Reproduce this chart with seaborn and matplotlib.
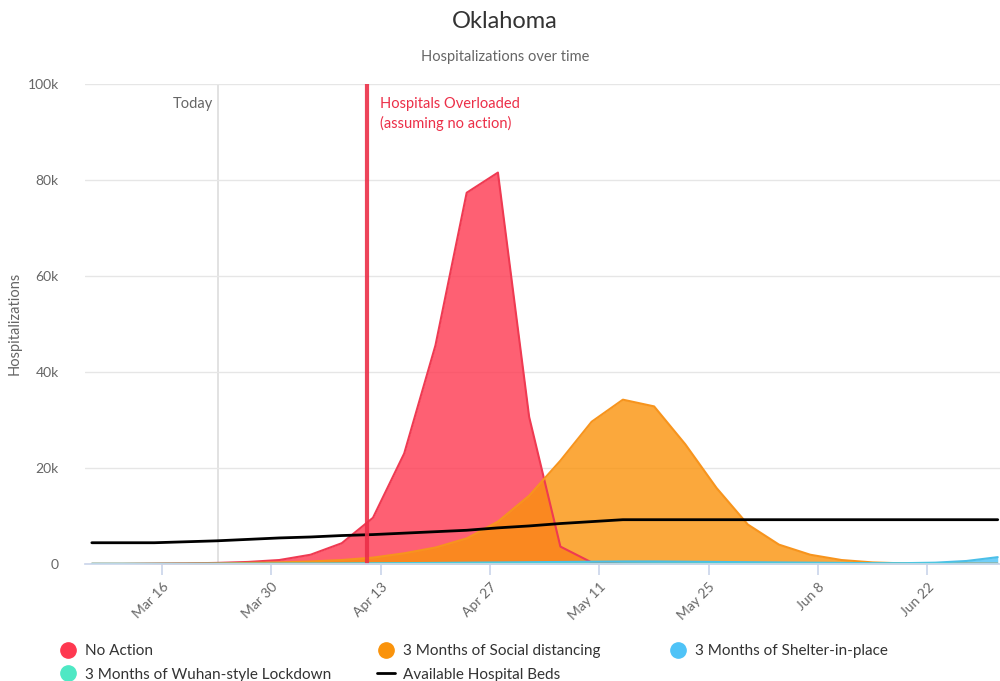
import pandas as pd
import seaborn as sns
import matplotlib.pyplot as plt
from matplotlib.lines import Line2D

# model output, one point every 4 days
dates = pd.date_range("2020-03-07", periods=30, freq="4D")

no_action = [0, 0, 50, 100, 200, 400, 800, 1900, 4300, 9600, 23000, 45500, 77300, 81500,
             30600, 3600, 300, 50, 0, 0, 0, 0, 0, 0, 0, 0, 0, 0, 0, 0]
social_distancing = [0, 0, 20, 50, 100, 200, 300, 500, 800, 1300, 2200, 3400, 5300, 8800,
                     14200, 21500, 29600, 34200, 32800, 24900, 15800, 8200, 4000, 1900,
                     800, 300, 100, 50, 20, 0]
shelter_in_place = [0, 0, 0, 0, 10, 20, 30, 50, 80, 120, 160, 200, 250, 300,
                    350, 400, 450, 500, 500, 450, 400, 350, 300, 250, 200, 150, 150, 250, 600, 1400]
wuhan_lockdown = [0, 0, 0, 0, 10, 10, 20, 20, 30, 30, 40, 40, 40, 40,
                  40, 40, 40, 40, 30, 30, 30, 20, 20, 20, 10, 10, 10, 10, 10, 10]
hospital_beds = [4400, 4400, 4400, 4600, 4800, 5100, 5400, 5600, 5900, 6100, 6400, 6700, 7000, 7500,
                 7900, 8400, 8800, 9200, 9200, 9200, 9200, 9200, 9200, 9200, 9200, 9200, 9200, 9200, 9200, 9200]

series_names = ["No Action", "3 Months of Social distancing", "3 Months of Shelter-in-place",
                "3 Months of Wuhan-style Lockdown"]
line_colors = ["#ef3a52", "#f7941d", "#4bbfe8", "#4fe3c2"]
fill_colors = ["#fe3850", "#fa930b", "#4fc3f7", "#4ee8c4"]

tick_dates = pd.to_datetime(["2020-03-16", "2020-03-30", "2020-04-13", "2020-04-27",
                             "2020-05-11", "2020-05-25", "2020-06-08", "2020-06-22"])
tick_labels = ["Mar 16", "Mar 30", "Apr 13", "Apr 27", "May 11", "May 25", "Jun 8", "Jun 22"]
y_ticks = [0, 20000, 40000, 60000, 80000, 100000]
y_labels = ["0", "20k", "40k", "60k", "80k", "100k"]

today = pd.Timestamp("2020-03-23 04:00")
overloaded = pd.Timestamp("2020-04-11 06:00")

df = pd.DataFrame({"date": dates, "No Action": no_action,
                   "3 Months of Social distancing": social_distancing,
                   "3 Months of Shelter-in-place": shelter_in_place,
                   "3 Months of Wuhan-style Lockdown": wuhan_lockdown,
                   "beds": hospital_beds})

sns.set_theme(style="white")
plt.rcParams['font.family'] = ['Lato', 'DejaVu Sans']

fig = plt.figure(figsize=(10, 6.81), dpi=100)
ax = fig.add_axes([0.085, 0.172, 0.915, 0.705])

for name, lc, fc in zip(series_names, line_colors, fill_colors):
    ax.fill_between(df["date"], df[name], 0, color=fc, alpha=0.8, lw=0)
    sns.lineplot(data=df, x="date", y=name, color=lc, lw=1.5, ax=ax, legend=False)

sns.lineplot(data=df, x="date", y="beds", color="black", lw=2, ax=ax, legend=False)

ax.axvline(today, color="#dddddd", lw=1.2, zorder=0)
ax.axvline(overloaded, color="#ec2f48", lw=3, alpha=0.9)
ax.text(today - pd.Timedelta(days=0.6), 95800, "Today", color="#666666", fontsize=10.5,
        ha="right", va="center")
ax.text(overloaded + pd.Timedelta(days=1.6), 95800, "Hospitals Overloaded", color="#ec2f48",
        fontsize=10.5, ha="left", va="center")
ax.text(overloaded + pd.Timedelta(days=1.6), 91800, "(assuming no action)", color="#ec2f48",
        fontsize=10.5, ha="left", va="center")

ax.set_xlim(pd.Timestamp("2020-03-06 03:00"), pd.Timestamp("2020-07-01 07:00"))
ax.set_ylim(0, 100000)
ax.set_yticks(y_ticks)
ax.set_yticklabels(y_labels, color="#666666", fontsize=10)
ax.set_xticks(tick_dates)
ax.set_xticklabels(tick_labels, rotation=45, ha="right", rotation_mode="anchor",
                   color="#666666", fontsize=10)
ax.tick_params(axis="x", bottom=True, length=8, color="#ccd6eb", pad=4)
ax.tick_params(axis="y", left=False, pad=13)
ax.yaxis.grid(True, color="#e6e6e6", lw=1)
ax.set_axisbelow(True)
for s in ["top", "right", "left"]:
    ax.spines[s].set_visible(False)
ax.spines["bottom"].set_color("#ccd6eb")
ax.set_xlabel("")
ax.set_ylabel("Hospitalizations", color="#666666", fontsize=10.5)
ax.yaxis.set_label_coords(-0.069, 0.5)

fig.text(0.505, 0.969, "Oklahoma", ha="center", va="center", fontsize=17, color="#333333")
fig.text(0.505, 0.917, "Hospitalizations over time", ha="center", va="center",
         fontsize=10.5, color="#666666")

handles = [Line2D([], [], marker="o", ls="none", markerfacecolor=c, markeredgecolor=c, markersize=11)
           for c in fill_colors]
handles.append(Line2D([], [], color="black", lw=2))
labels = series_names + ["Available Hospital Beds"]
order = [0, 3, 1, 4]
leg_kw = dict(frameon=False, fontsize=11, handlelength=1.2, handletextpad=0.5,
              labelspacing=0.62, labelcolor="#333333", borderaxespad=0, borderpad=0)
fig.legend([handles[i] for i in order], [labels[i] for i in order], ncol=2,
           loc="upper left", bbox_to_anchor=(0.059, 0.054), columnspacing=3.0, **leg_kw)
fig.legend([handles[2]], [labels[2]], ncol=1,
           loc="upper left", bbox_to_anchor=(0.669, 0.054), **leg_kw)

fig.savefig("out.png", dpi=100)
